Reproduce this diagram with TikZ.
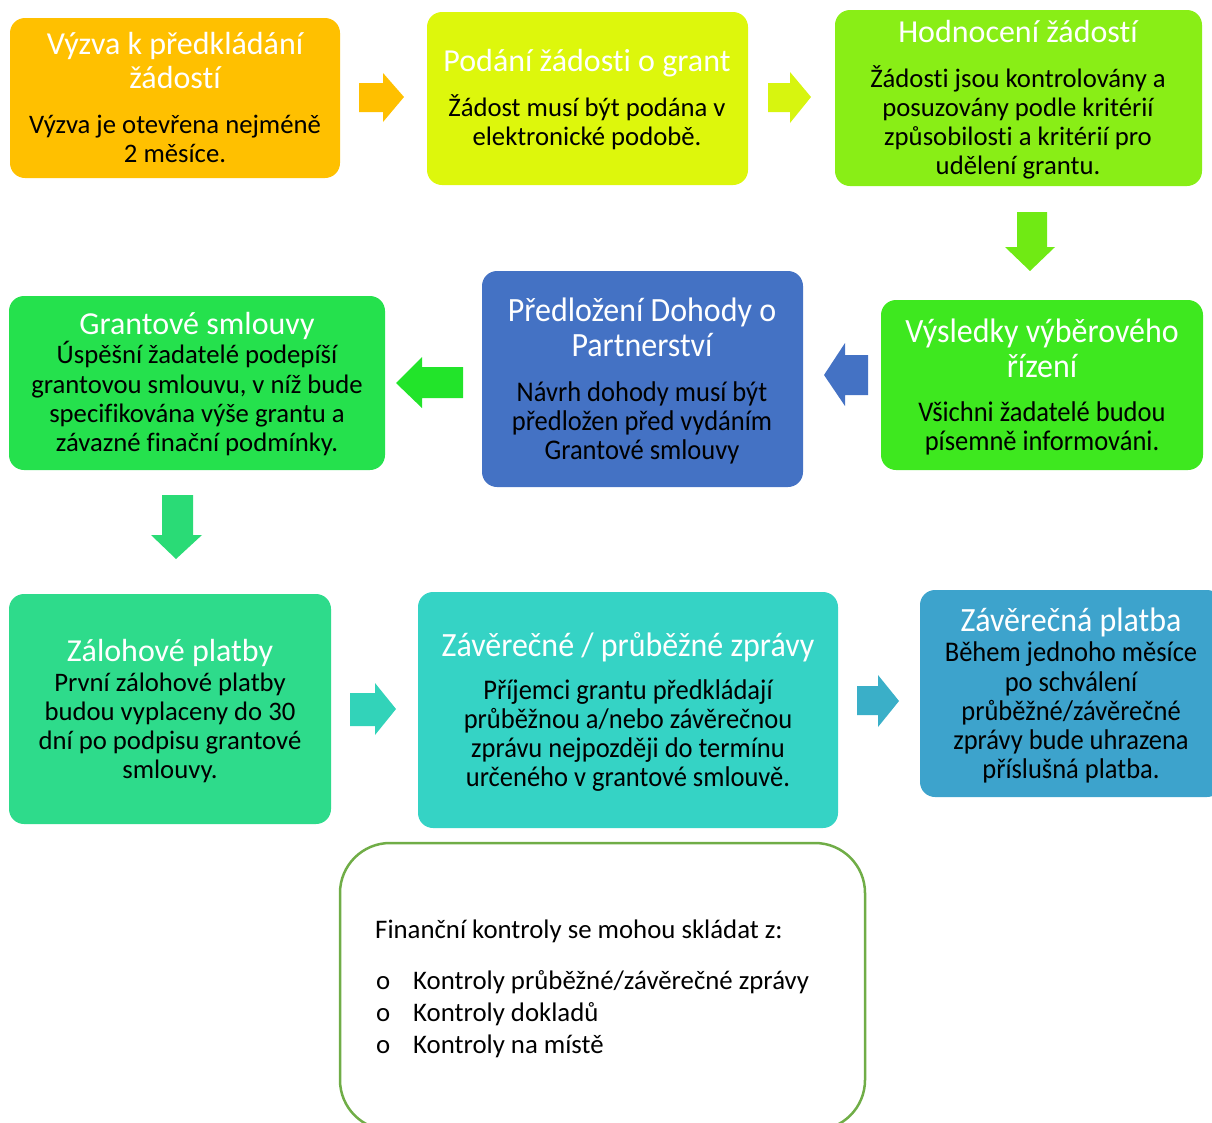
\documentclass[tikz,border=0pt]{standalone}
\usepackage{fontspec}
\setmainfont{Carlito}[Ligatures=NoCommon]
\newfontfamily\cnd{Carlito}[FakeStretch=0.94,Ligatures=NoCommon]
\newfontfamily\cndb{Carlito}[FakeStretch=0.93,Ligatures=NoCommon]
\definecolor{cA}{RGB}{255,192,0}
\definecolor{cB}{RGB}{221,247,12}
\definecolor{cC}{RGB}{137,238,22}
\definecolor{cD}{RGB}{62,232,31}
\definecolor{cE}{RGB}{68,114,196}
\definecolor{cF}{RGB}{37,225,77}
\definecolor{cG}{RGB}{46,219,139}
\definecolor{cH}{RGB}{53,211,197}
\definecolor{cI}{RGB}{61,163,204}
\definecolor{cK}{RGB}{112,173,71}
\definecolor{aB}{RGB}{215,245,15}
\definecolor{aC}{RGB}{112,234,20}
\definecolor{aF}{RGB}{34,228,42}
\definecolor{aG}{RGB}{42,219,118}
\definecolor{aH}{RGB}{50,211,185}
\definecolor{aI}{RGB}{58,175,200}
\tikzset{
  box/.style={rectangle, rounded corners=15pt, draw=none, inner sep=0pt},
  tt/.style={text=white, font=\fontsize{32}{34}\selectfont, anchor=base, inner sep=0pt},
  bt/.style={text=black, font=\fontsize{26.7}{29}\selectfont, anchor=base, inner sep=0pt},
  ct/.style={text=white, font=\cnd\fontsize{34}{36}\selectfont, anchor=base, inner sep=0pt},
  cb/.style={text=black, font=\cndb\fontsize{28.5}{30}\selectfont, anchor=base, inner sep=0pt},
  lt/.style={text=black, font=\fontsize{26.8}{29}\selectfont, anchor=base west, inner sep=0pt},
}
\begin{document}
\begin{tikzpicture}[x=1pt,y=-1pt]
\useasboundingbox (0,0) rectangle (1212,1122);
\clip (0,0) rectangle (1212,1122);
% boxes
\node[box, fill=cA, minimum width=330pt, minimum height=160pt] (b1) at (175,98) {};
\node[box, fill=cB, minimum width=321pt, minimum height=173pt] (b2) at (587.5,98.5) {};
\node[box, fill=cC, minimum width=367pt, minimum height=176pt] (b3) at (1018.5,98) {};
\node[box, fill=cD, minimum width=322pt, minimum height=170pt] (b4) at (1042,385) {};
\node[box, fill=cE, minimum width=321pt, minimum height=216pt] (b5) at (642.5,379) {};
\node[box, fill=cF, minimum width=376pt, minimum height=174pt] (b6) at (197,383) {};
\node[box, fill=cG, minimum width=322pt, minimum height=230pt] (b7) at (170,709) {};
\node[box, fill=cH, minimum width=420pt, minimum height=236pt] (b8) at (628,710) {};
\node[box, fill=cI, minimum width=302pt, minimum height=207pt] (b9) at (1071,693.5) {};
\node[box, draw=cK, line width=2.5pt, rounded corners=50pt, minimum width=525pt, minimum height=287pt] (b10) at (602.5,986.5) {};
% block arrows
\fill[cA] (359,83) -- (383,83) -- (383,73) -- (404,97) -- (383,122) -- (383,112) -- (359,112) -- cycle;
\fill[aB] (768,83) -- (790,83) -- (790,72) -- (811,97) -- (790,123) -- (790,112) -- (768,112) -- cycle;
\fill[aC] (1017,212) -- (1047,212) -- (1047,247) -- (1055,247) -- (1030,271) -- (1005,247) -- (1017,247) -- cycle;
\fill[cE] (868,355) -- (845,355) -- (845,343) -- (824,375) -- (845,406) -- (845,395) -- (868,395) -- cycle;
\fill[aF] (463,367) -- (422,367) -- (422,357) -- (396,383) -- (422,408) -- (422,398) -- (463,398) -- cycle;
\fill[aG] (162,495) -- (193,495) -- (193,535) -- (202,535) -- (176,559) -- (151,535) -- (162,535) -- cycle;
\fill[aH] (350,693) -- (375,693) -- (375,683) -- (396,709) -- (375,735) -- (375,726) -- (350,726) -- cycle;
\fill[aI] (857,686) -- (878,686) -- (878,675) -- (899,701) -- (878,727) -- (878,715) -- (857,715) -- cycle;
% texts box 1
\node[tt] (t1a) at (175,54) {Výzva k předkládání};
\node[tt] (t1b) at (175,88) {žádostí};
\node[bt] (t1c) at (175,133) {Výzva je otevřena nejméně};
\node[bt] (t1d) at (175,162) {2 měsíce.};
% box 2
\node[tt] (t2a) at (587,71) {Podání žádosti o grant};
\node[bt] (t2b) at (587,116) {Žádost musí být podána v};
\node[bt] (t2c) at (587,145) {elektronické podobě.};
% box 3
\node[tt] (t3a) at (1018,42) {Hodnocení žádostí};
\node[bt] (t3b) at (1018,87) {Žádosti jsou kontrolovány a};
\node[bt] (t3c) at (1018,116) {posuzovány podle kritérií};
\node[bt] (t3d) at (1018,145) {způsobilosti a kritérií pro};
\node[bt] (t3e) at (1018,174) {udělení grantu.};
% box 4
\node[ct] (t4a) at (1042,342) {Výsledky výběrového};
\node[ct] (t4b) at (1042,377) {řízení};
\node[cb] (t4c) at (1042,421) {Všichni žadatelé budou};
\node[cb] (t4d) at (1042,450) {písemně informováni.};
% box 5
\node[ct] (t5a) at (642,321) {Předložení Dohody o};
\node[ct] (t5b) at (642,356) {Partnerství};
\node[cb] (t5c) at (642,401) {Návrh dohody musí být};
\node[cb] (t5d) at (642,430) {předložen před vydáním};
\node[cb] (t5e) at (642,459) {Grantové smlouvy};
% box 6
\node[tt] (t6a) at (197,334) {Grantové smlouvy};
\node[bt] (t6b) at (197,363) {Úspěšní žadatelé podepíší};
\node[bt] (t6c) at (197,393) {grantovou smlouvu, v níž bude};
\node[bt] (t6d) at (197,422) {specifikována výše grantu a};
\node[bt] (t6e) at (197,451) {závazné finační podmínky.};
% box 7
\node[tt] (t7a) at (170,661) {Zálohové platby};
\node[bt] (t7b) at (170,691) {První zálohové platby};
\node[bt] (t7c) at (170,720) {budou vyplaceny do 30};
\node[bt] (t7d) at (170,749) {dní po podpisu grantové};
\node[bt] (t7e) at (170,778) {smlouvy.};
% box 8
\node[ct] (t8a) at (628,656) {Závěrečné / průběžné zprávy};
\node[cb] (t8b) at (628,699) {Příjemci grantu předkládají};
\node[cb] (t8c) at (628,728) {průběžnou a/nebo závěrečnou};
\node[cb] (t8d) at (628,757) {zprávu nejpozději do termínu};
\node[cb] (t8e) at (628,786) {určeného v grantové smlouvě.};
% box 9
\node[ct] (t9a) at (1071,631) {Závěrečná platba};
\node[cb] (t9b) at (1071,661) {Během jednoho měsíce};
\node[cb] (t9c) at (1071,691) {po schválení};
\node[cb] (t9d) at (1071,720) {průběžné/závěrečné};
\node[cb] (t9e) at (1071,749) {zprávy bude uhrazena};
\node[cb] (t9f) at (1071,778) {příslušná platba.};
% box 10
\node[lt] (t10a) at (375,938) {Finanční kontroly se mohou skládat z:};
\node[lt] (o1) at (376,989) {o};
\node[lt] (o2) at (376,1021) {o};
\node[lt] (o3) at (376,1053) {o};
\node[lt] (t10b) at (413,989) {Kontroly průběžné/závěrečné zprávy};
\node[lt] (t10c) at (413,1021) {Kontroly dokladů};
\node[lt] (t10d) at (413,1053) {Kontroly na místě};
\end{tikzpicture}
\end{document}
